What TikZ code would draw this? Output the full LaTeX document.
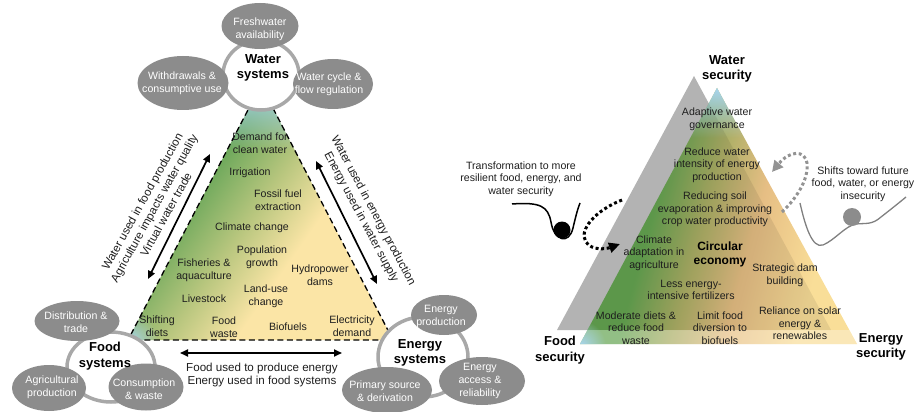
\documentclass[tikz,border=0pt]{standalone}
\usepackage{fontspec}
\setmainfont{Liberation Sans}
\usetikzlibrary{arrows.meta,fadings}

\definecolor{ellgray}{HTML}{8C8C8C}
\definecolor{loopgray}{HTML}{A8A8A8}
\definecolor{trigray}{HTML}{B3B3B3}
\definecolor{skyb}{HTML}{A9D6F2}
\definecolor{leafg}{HTML}{6FA95C}
\definecolor{oliv}{HTML}{B8C67E}
\definecolor{sand}{HTML}{FBE5A6}
\definecolor{darkg}{HTML}{64A451}
\definecolor{oliv2}{HTML}{A9AE64}
\definecolor{tanc}{HTML}{E6BE84}
\definecolor{yell}{HTML}{F9DE98}
\definecolor{txt}{HTML}{1E1E1E}
\definecolor{hillgray}{HTML}{808080}

\pgfdeclarehorizontalshading{lefttri}{100bp}{color(0bp)=(leafg); color(38bp)=(leafg); color(49bp)=(oliv); color(60bp)=(sand); color(100bp)=(sand)}
\pgfdeclarehorizontalshading{righttri}{100bp}{color(0bp)=(darkg); color(38bp)=(darkg); color(47bp)=(oliv2); color(57bp)=(tanc); color(70bp)=(yell); color(100bp)=(yell)}

\tikzfading[name=fadedown, top color=transparent!0, bottom color=transparent!100]
\tikzfading[name=fuzzy, inner color=transparent!0, outer color=transparent!100]

\newcommand\myfs[2]{\fontsize{#1}{#2}\selectfont}

\tikzset{
  elltext/.style={text=white, align=center, inner sep=0pt, font=\myfs{10.6}{13}},
  ellbg/.style={fill=ellgray},
  loopring/.style={draw=loopgray, line width=3.5pt, fill=white},
  inner/.style={text=txt, align=center, inner sep=0pt, font=\myfs{10.6}{12.6}},
  biglabel/.style={text=black, align=center, inner sep=0pt, font=\bfseries\myfs{13}{15.7}},
  arrlabel/.style={text=txt, align=center, inner sep=0pt, font=\myfs{11.6}{13.6}},
  dbl/.style={{Triangle[length=8pt,width=7pt]}-{Triangle[length=8pt,width=7pt]}, line width=1.7pt, black},
  blackdots/.style={line width=3pt, dash pattern=on 3pt off 2.6pt, black, -{Triangle[length=11pt,width=10pt]}},
  graydots/.style={line width=3pt, dash pattern=on 3pt off 2.6pt, hillgray!85, -{Triangle[length=11pt,width=11pt]}},
}

\begin{document}
\begin{tikzpicture}[x=1pt,y=-1pt]
\useasboundingbox (0,0) rectangle (922,412);

% ---------------- LEFT PANEL: triangle ----------------
\coordinate (LA) at (261,85);
\coordinate (LB) at (128,340);
\coordinate (LC) at (393,340);
\begin{scope}
  \clip (LA)--(LB)--(LC)--cycle;
  \shade[shading=lefttri, shading angle=-35] (LA)--(LB)--(LC)--cycle;
  \fill[skyb, path fading=fadedown] (120,84) rectangle (400,150);
  \fill[skyb, path fading=fuzzy] (128,342) circle (30pt);
\end{scope}
\draw[line width=1.3pt, dash pattern=on 6pt off 3.5pt] (LA)--(LB)--(LC)--cycle;

% ---------------- Water systems cluster ----------------
\draw[loopring] (261,75) ellipse [x radius=38pt, y radius=35pt];
\fill[ellbg] (260,26) ellipse [x radius=38.5pt, y radius=23pt];
\fill[ellbg] (183,83) ellipse [x radius=45.5pt, y radius=27pt];
\fill[ellbg] (333,84) ellipse [x radius=40pt, y radius=25pt];
\node[elltext] (fresh) at (260,29) {Freshwater\\availability};
\node[elltext] (withd) at (182,83) {Withdrawals \&\\consumptive use};
\node[elltext] (cycle) at (329,84) {Water cycle \&\\flow regulation};
\node[biglabel] (watersys) at (263,68) {Water\\systems};

% ---------------- Food systems cluster ----------------
\draw[loopring] (111,367) ellipse [x radius=44pt, y radius=35pt];
\fill[ellbg] (77,321) ellipse [x radius=42.5pt, y radius=20pt];
\fill[ellbg] (49,388) ellipse [x radius=37pt, y radius=23pt];
\fill[ellbg] (146,387) ellipse [x radius=37.5pt, y radius=23.5pt];
\node[elltext] (distr) at (76,322) {Distribution \&\\trade};
\node[elltext] (agri) at (52,387) {Agricultural\\production};
\node[elltext] (consum) at (144,389) {Consumption\\\& waste};
\node[biglabel] (foodsys) at (105,356) {Food\\systems};

% ---------------- Energy systems cluster ----------------
\draw[loopring] (423,357) ellipse [x radius=45pt, y radius=40pt];
\fill[ellbg] (444,315) ellipse [x radius=33pt, y radius=20pt];
\fill[ellbg] (387,390) ellipse [x radius=45pt, y radius=23pt];
\fill[ellbg] (482,381) ellipse [x radius=43pt, y radius=24pt];
\node[elltext] (eprod) at (441,316) {Energy\\production};
\node[elltext] (prim) at (385,391) {Primary source\\\& derivation};
\node[elltext] (eacc) at (480,381) {Energy\\access \&\\reliability};
\node[biglabel] (energysys) at (420,353) {Energy\\systems};

% ---------------- Triangle contents ----------------
\node[inner] (t1) at (260,143) {Demand for\\clean water};
\node[inner] (t2) at (250,173) {Irrigation};
\node[inner] (t3) at (278,200) {Fossil fuel\\extraction};
\node[inner] (t4) at (252,228) {Climate change};
\node[inner] (t5) at (262,257) {Population\\growth};
\node[inner] (t6) at (204,270) {Fisheries \&\\aquaculture};
\node[inner] (t7) at (320,275) {Hydropower\\dams};
\node[inner] (t8) at (204,299) {Livestock};
\node[inner] (t9) at (266,296) {Land-use\\change};
\node[inner] (t10) at (157,326) {Shifting\\diets};
\node[inner] (t11) at (224,327) {Food\\waste};
\node[inner] (t12) at (288,327) {Biofuels};
\node[inner] (t13) at (352,326) {Electricity\\demand};

% ---------------- Double arrows ----------------
\coordinate (lw1) at (148,279);
\coordinate (lw2) at (210,154);
\coordinate (rw1) at (316,161);
\coordinate (rw2) at (377,284);
\coordinate (bw1) at (180,353);
\coordinate (bw2) at (342,353);
\draw[dbl] (lw1) -- (lw2);
\draw[dbl] (rw1) -- (rw2);
\draw[dbl] (bw1) -- (bw2);
\node[arrlabel, rotate=61] (lefttxt) at (154,208) {Water used in food production\\Agriculture impacts water quality\\Virtual water trade};
\node[arrlabel, rotate=-62] (righttxt) at (367,214) {Water used in energy production\\Energy used in water supply};
\node[arrlabel] (bottxt) at (262,375) {Food used to produce energy\\Energy used in food systems};

% ---------------- RIGHT PANEL ----------------
\coordinate (GA) at (694,76);
\coordinate (GB) at (557,330);
\coordinate (GC) at (831,330);
\coordinate (RA) at (717,88);
\coordinate (RB) at (580,344);
\coordinate (RC) at (857,344);
\fill[trigray] (GA)--(GB)--(GC)--cycle;
\begin{scope}
  \clip (RA)--(RB)--(RC)--cycle;
  \shade[shading=righttri, shading angle=-15] (RA)--(RB)--(RC)--cycle;
  \fill[skyb, path fading=fadedown] (570,87) rectangle (870,138);
  \fill[black, opacity=0.08] (GA)--(GB)--(GC)--cycle;
  \fill[white, opacity=0.3] (570,330) rectangle (870,346);
  \fill[skyb, path fading=fuzzy] (580,346) circle (26pt);
\end{scope}

\node[biglabel] (watersec) at (727,69) {Water\\security};
\node[biglabel] (foodsec) at (560,350) {Food\\security};
\node[biglabel] (energysec) at (881,347) {Energy\\security};

\node[inner] (r1) at (717,119.5) {Adaptive water\\governance};
\node[inner] (r2) at (717,165) {Reduce water\\intensity of energy\\production};
\node[inner] (r3) at (715,209.5) {Reducing soil\\evaporation \& improving\\crop water productivity};
\node[inner] (r4) at (654,253) {Climate\\adaptation in\\agriculture};
\node[text=black, align=center, inner sep=0pt, font=\bfseries\myfs{12}{14}] (r5) at (720,254) {Circular\\economy};
\node[inner] (r6) at (785,275) {Strategic dam\\building};
\node[inner] (r7) at (691,290) {Less energy-\\intensive fertilizers};
\node[inner] (r8) at (636,328) {Moderate diets \&\\reduce food\\waste};
\node[inner] (r9) at (720,328) {Limit food\\diversion to\\biofuels};
\node[inner] (r10) at (800,323.5) {Reliance on solar\\energy \&\\renewables};

% left side: transformation
\node[inner] (trans) at (521,179) {Transformation to more\\resilient food, energy, and\\water security};
\coordinate (v0) at (512,204);
\coordinate (v1) at (580,203);
\draw[line width=1.5pt, black] (v0) .. controls (540,202) and (548,206) .. (551,222)
   .. controls (554,241) and (569,245) .. (573,228) .. controls (576,215) and (578,208) .. (v1);
\fill[black] (562,230) circle (8.5pt);
\coordinate (bd0) at (622,200);
\coordinate (bd1) at (620,244);
\draw[blackdots] (bd0) .. controls (596,210) and (578,230) .. (586,242) .. controls (592,251) and (606,249) .. (bd1);

% right side: shifts
\node[inner] (shift) at (863,184) {Shifts toward future\\food, water, or energy\\insecurity};
\coordinate (h0) at (800,203);
\coordinate (h1) at (906,197);
\draw[line width=1.3pt, hillgray] (h0) .. controls (805,225) and (812,249) .. (823,245)
   .. controls (835,240) and (845,226) .. (856,224) .. controls (866,223) and (872,225) .. (881,217)
   .. controls (890,210) and (900,202) .. (h1);
\fill[ellgray] (852,217) circle (9pt);
\coordinate (gd0) at (782,212);
\coordinate (gd1) at (772,172);
\draw[graydots] (gd0) .. controls (795,200) and (809,180) .. (807,163) .. controls (805,150) and (790,150) .. (gd1);

\end{tikzpicture}
\end{document}
